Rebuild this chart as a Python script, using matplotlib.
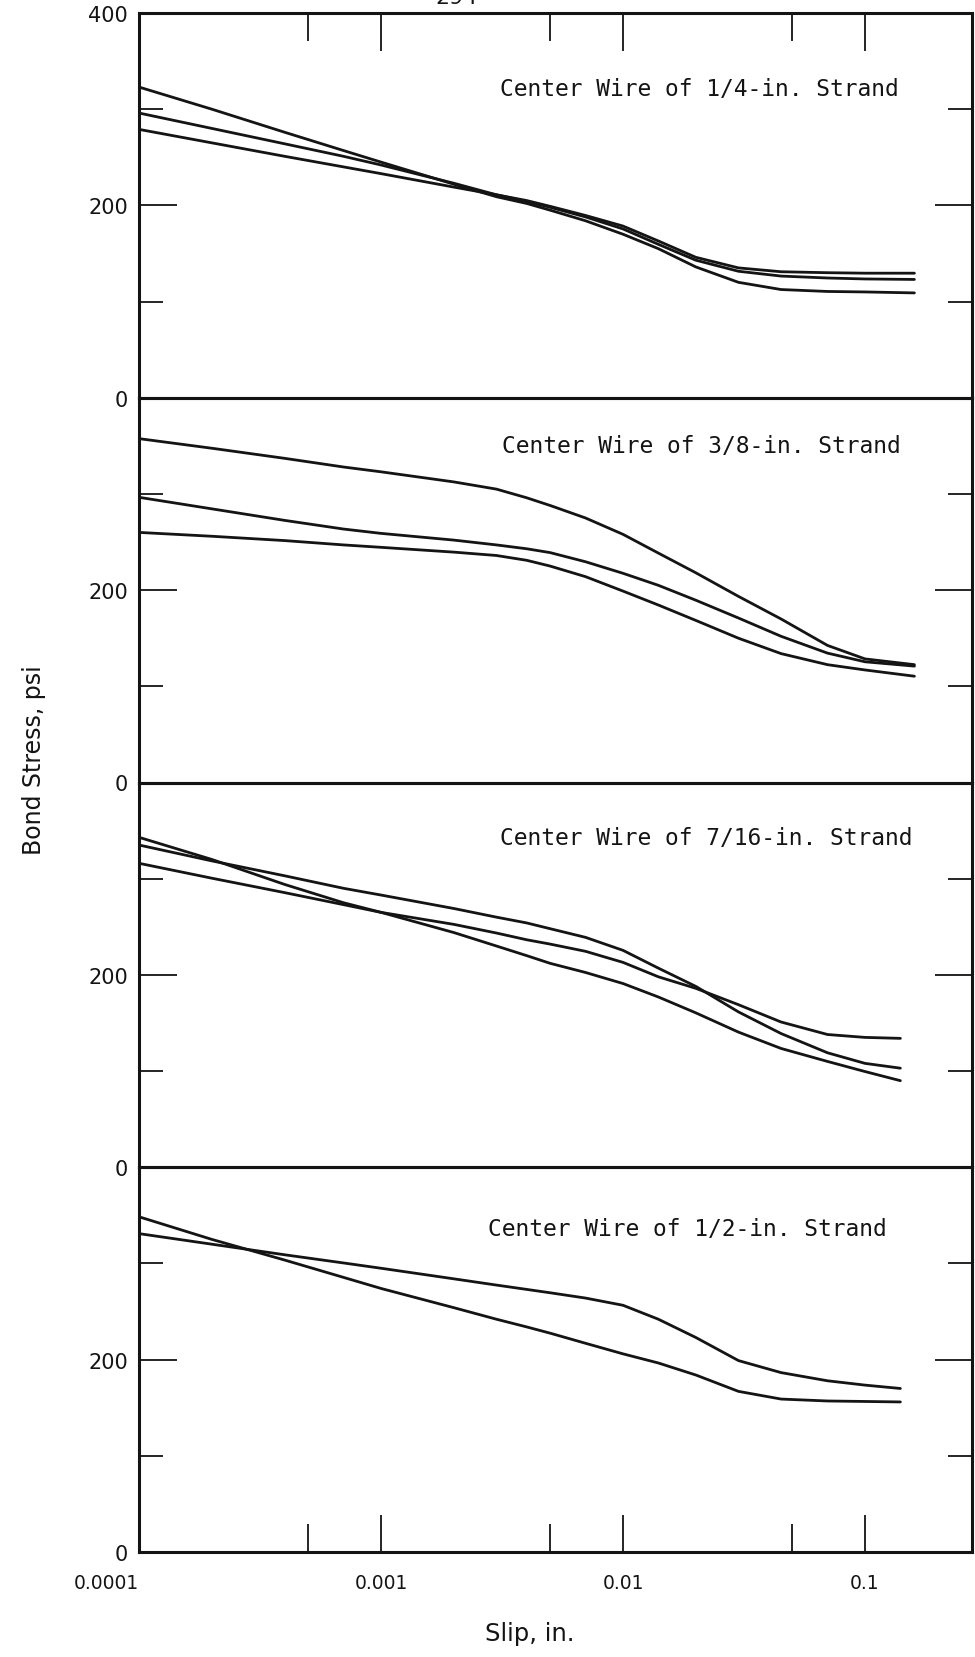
import numpy as np
import matplotlib
matplotlib.use("Agg")
import matplotlib.pyplot as plt
from matplotlib.ticker import FixedLocator, FixedFormatter, NullFormatter

# ---- data: bond stress (psi) versus slip (in.) for the center wire tests ----
# slip stations, in.
slip_short = [0.0001, 0.0002, 0.0004, 0.0007, 0.001, 0.002, 0.003, 0.004, 0.005,
              0.007, 0.01, 0.014, 0.02, 0.03, 0.045, 0.07, 0.1, 0.16]
slip_long = [0.0001, 0.0002, 0.0004, 0.0007, 0.001, 0.002, 0.003, 0.004, 0.005,
             0.007, 0.01, 0.014, 0.02, 0.03, 0.045, 0.07, 0.1, 0.14]

# 1/4-in. strand
quarter_1 = [323, 300, 276, 257, 245, 222, 209, 202, 195, 184, 170, 155, 136, 120, 112.5, 110.5, 110, 109]
quarter_2 = [296, 280, 264, 251, 242, 223, 211, 204, 198, 188, 175.5, 159.5, 143, 131.5, 126.5, 124.5, 123.5, 123]
quarter_3 = [279, 265, 251, 240, 233, 219, 211, 205, 199, 189.5, 178.5, 163, 146, 135, 131, 130, 129.5, 129.5]

# 3/8-in. strand
three8_1 = [357.5, 347.5, 337, 328, 323, 312.5, 305, 296, 288, 275, 258, 238.5, 218, 193.5, 170, 142.5, 128.5, 122.5]
three8_2 = [296.5, 284.5, 272.5, 263.5, 259, 252, 247, 243, 239, 229.5, 217.5, 205, 189.5, 171, 152, 134.5, 125.5, 121]
three8_3 = [260, 256, 251.5, 247, 244.5, 239.5, 236, 231, 225, 214, 199, 184.5, 168.5, 150, 134, 122.5, 117, 110.5]

# 7/16-in. strand
seven16_1 = [343, 320, 294, 275, 265, 244, 230, 220, 212, 202.5, 191, 177, 160.5, 140.5, 123.5, 110, 99.5, 90]
seven16_2 = [335, 318.5, 303, 290, 283, 269, 260, 254, 248, 239, 225.5, 207, 188, 161.5, 139, 119, 108, 103]
seven16_3 = [316, 300.5, 285.5, 273, 265, 252.5, 243.5, 236.5, 232, 224.5, 213, 198, 186, 169, 151, 138, 135, 134]

# 1/2-in. strand
half_1 = [348.5, 325, 303.5, 285.5, 274, 254, 242, 234, 227.5, 217, 206, 196.5, 184, 167, 159, 157, 156.5, 156]
half_2 = [331, 320, 309, 300.5, 295, 284, 277.5, 273, 269.5, 264, 256.5, 242, 223, 199, 186.5, 178, 173.5, 170]

panel_titles = ["Center Wire of 1/4-in. Strand",
                "Center Wire of 3/8-in. Strand",
                "Center Wire of 7/16-in. Strand",
                "Center Wire of 1/2-in. Strand"]

x_major = [0.0001, 0.001, 0.01, 0.1]
x_major_labels = ["0.0001", "0.001", "0.01", "0.1"]
x_minor = [0.0005, 0.005, 0.05]
y_major = [0, 200, 400]
y_minor = [100, 300]

# ---- layout (pixel geometry of the page) ----
W, H = 975, 1658
left_px, right_px = 139, 972
top_px, bottom_px = 14, 1553
decade_px = 242
panel_h = (bottom_px - top_px) / 4

ink = "#141414"
fig = plt.figure(figsize=(W / 100, H / 100), dpi=100)
fig.patch.set_facecolor("white")

panels = [
    (slip_short, [quarter_1, quarter_2, quarter_3]),
    (slip_short, [three8_1, three8_2, three8_3]),
    (slip_long, [seven16_1, seven16_2, seven16_3]),
    (slip_long, [half_1, half_2]),
]
title_x = [0.4334, 0.4358, 0.4334, 0.419]
title_y = [0.788, 0.858, 0.840, 0.824]

xmax = 10 ** (-4 + (right_px - left_px) / decade_px)

for i, (slip, curves) in enumerate(panels):
    top = top_px + i * panel_h
    ax = fig.add_axes([left_px / W, 1 - (top + panel_h) / H,
                       (right_px - left_px) / W, panel_h / H])
    ax.patch.set_alpha(0)
    ax.set_xscale("log")
    ax.set_xlim(1e-4, xmax)
    ax.set_ylim(0, 400)

    for stress in curves:
        ax.plot(slip, stress, color=ink, lw=2.0,
                solid_capstyle="round", solid_joinstyle="round")

    for sp in ax.spines.values():
        sp.set_linewidth(2.2)
        sp.set_color(ink)

    # stress axis: labelled 0 and 200 in each band, 400 only at the very top
    ax.yaxis.set_major_locator(FixedLocator(y_major))
    ax.yaxis.set_major_formatter(FixedFormatter(["0", "200", "400" if i == 0 else ""]))
    ax.yaxis.set_minor_locator(FixedLocator(y_minor))
    ax.yaxis.set_minor_formatter(NullFormatter())
    ax.tick_params(axis="y", which="both", direction="in", left=True, right=True,
                   labelleft=True, labelright=False, width=1.3, color=ink)
    ax.tick_params(axis="y", which="major", length=27, pad=8, labelsize=15,
                   labelcolor=ink)
    ax.tick_params(axis="y", which="minor", length=17)

    # slip axis: ticks on the outer frame only
    ax.xaxis.set_major_locator(FixedLocator(x_major))
    ax.xaxis.set_major_formatter(FixedFormatter(x_major_labels))
    ax.xaxis.set_minor_locator(FixedLocator(x_minor))
    ax.xaxis.set_minor_formatter(NullFormatter())
    ax.tick_params(axis="x", which="both", direction="in", width=1.3, color=ink,
                   top=(i == 0), bottom=(i == 3), labelbottom=(i == 3), labeltop=False)
    ax.tick_params(axis="x", which="major", length=27, pad=15, labelsize=13.5,
                   labelcolor=ink)
    ax.tick_params(axis="x", which="minor", length=20)
    if i == 3:
        for lab in ax.get_xticklabels():
            if lab.get_text() == "0.0001":
                lab.set_horizontalalignment("right")

    ax.text(title_x[i], title_y[i], panel_titles[i], transform=ax.transAxes,
            family="DejaVu Sans Mono", fontsize=16.5, color=ink,
            ha="left", va="baseline")

fig.text(34.5 / W, 1 - 760 / H, "Bond Stress, psi", rotation=90,
         ha="center", va="center", fontsize=17, color=ink)
fig.text(530 / W, 1 - 1641 / H, "Slip, in.", ha="center", va="baseline",
         fontsize=17.5, color=ink)
# page number, trimmed by the top edge of the sheet
fig.text(457 / W, 1 - 4 / H, "294", ha="center", va="baseline",
         fontsize=16, color=ink)

fig.savefig("out.png", dpi=100, facecolor="white")
